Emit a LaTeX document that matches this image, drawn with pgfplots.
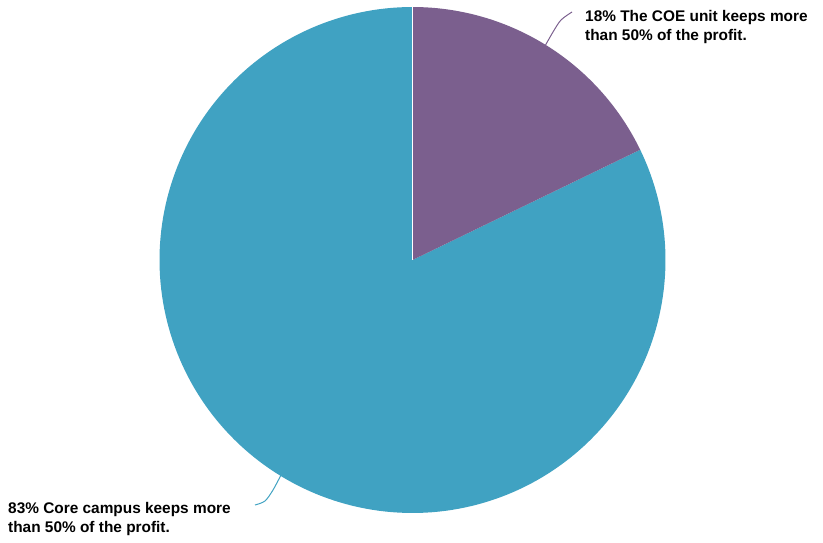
\documentclass[border=0pt]{standalone}
\usepackage{pgfplots}
\pgfplotsset{compat=1.18}
\usepackage{fontspec}
\setmainfont{Liberation Sans}
\definecolor{pur}{RGB}{123,95,142}
\definecolor{teal}{RGB}{64,162,194}
% slice values (percent)
\def\vA{18}
\def\vB{83}
\begin{document}
\begin{tikzpicture}
\pgfmathsetmacro{\tot}{\vA+\vB}
\pgfmathsetmacro{\aA}{90-360*\vA/\tot}
\begin{axis}[hide axis, scale only axis, width=823pt, height=542pt,
  xmin=0, xmax=823, ymin=0, ymax=542, clip=false]
\path (axis cs:0,0) rectangle (axis cs:823,542);
\addplot[fill=teal, draw=none, domain=\aA:-270, samples=200]
  ({412.5+253*cos(x)}, {282+253*sin(x)}) -- (axis cs:412.5,282) -- cycle;
\addplot[fill=pur, draw=none, domain=90:\aA, samples=80]
  ({412.5+253*cos(x)}, {282+253*sin(x)}) -- (axis cs:412.5,282) -- cycle;
\addplot[white, line width=0.4pt] coordinates {(412.5,282) (412.5,535)};
\addplot[pur, line width=1pt, smooth] coordinates {(572,530) (561,522) (553,510) (545,496)};
\addplot[teal, line width=1pt, smooth] coordinates {(255,37) (265,41) (273,52) (281,67)};
\node[anchor=north west, inner sep=0pt, align=left, font=\bfseries\fontsize{15.4}{19.3}\selectfont]
  at (axis cs:585,532) {18\% The COE unit keeps more\\than 50\% of the profit.};
\node[anchor=north west, inner sep=0pt, align=left, font=\bfseries\fontsize{15.4}{19.3}\selectfont]
  at (axis cs:8,40) {83\% Core campus keeps more\\than 50\% of the profit.};
\end{axis}
\end{tikzpicture}
\end{document}
